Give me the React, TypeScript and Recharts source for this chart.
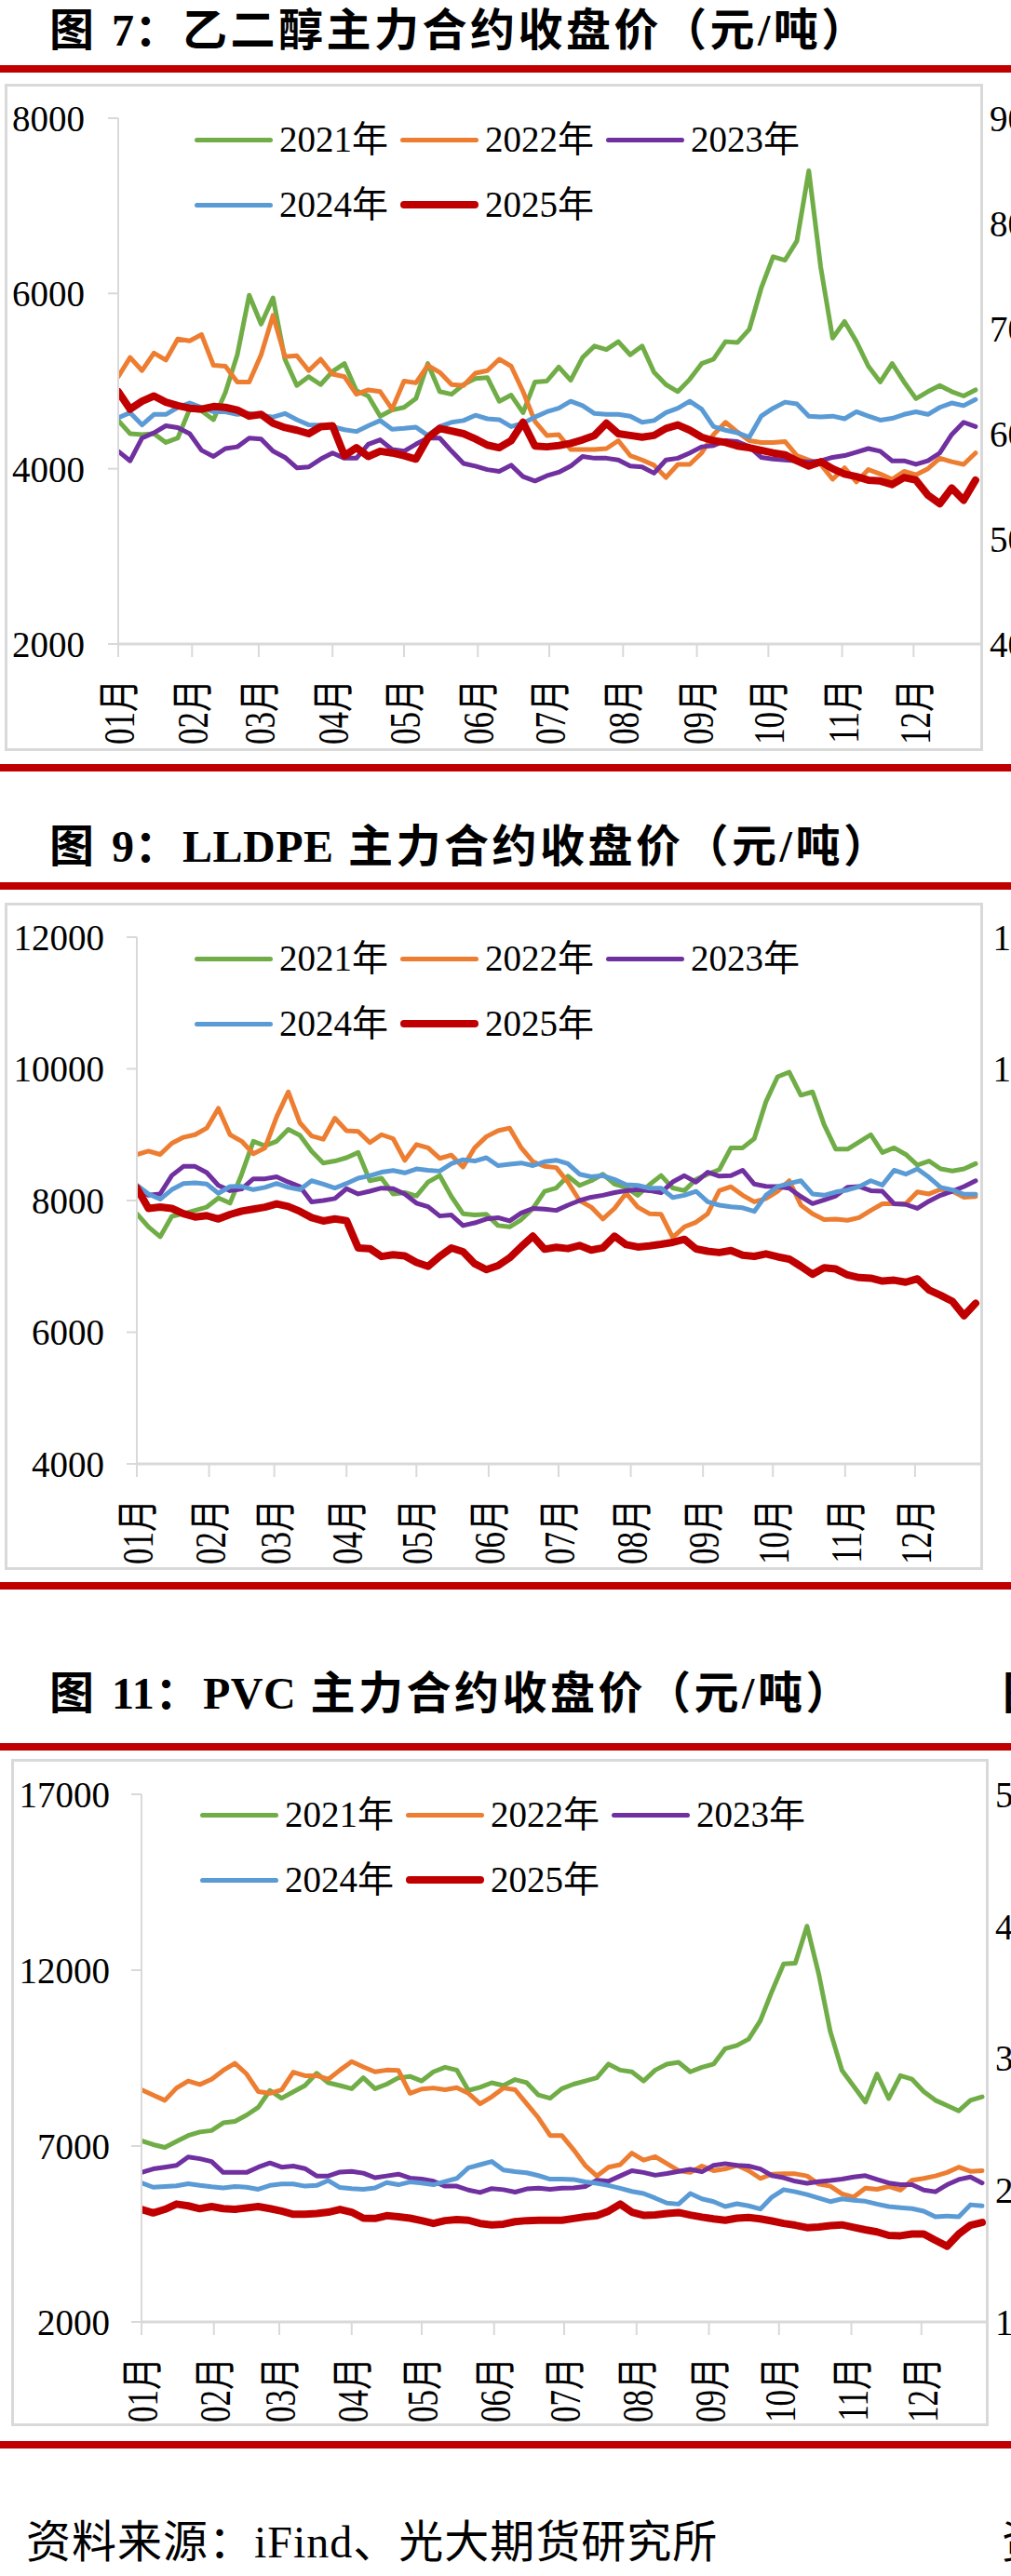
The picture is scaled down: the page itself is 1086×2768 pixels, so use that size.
import React from "react";
import { LineChart, Line, XAxis, YAxis, Legend } from "recharts";

const SERIF = '"Liberation Serif", "Times New Roman", "Noto Sans CJK SC", serif';
const TITLE_FONT = '"Liberation Serif", "Noto Sans CJK SC", sans-serif';
const GRID = "#D9D9D9";
const RED_BAR = "#C00000";

// trading calendar, one sample every 5 days from Jan 1
const DAYS = [
  0, 5, 10, 15, 20, 25, 30, 35, 40, 45, 50, 55, 60, 65, 70, 75, 80, 85, 90, 95,
  100, 105, 110, 115, 120, 125, 130, 135, 140, 145, 150, 155, 160, 165, 170, 175, 180, 185, 190, 195,
  200, 205, 210, 215, 220, 225, 230, 235, 240, 245, 250, 255, 260, 265, 270, 275, 280, 285, 290, 295,
  300, 305, 310, 315, 320, 325, 330, 335, 340, 345, 350, 355, 360,
];
const MONTH_STARTS = [0, 31, 59, 90, 120, 151, 181, 212, 243, 273, 304, 334];
const MONTH_LABELS = ["01月", "02月", "03月", "04月", "05月", "06月", "07月", "08月", "09月", "10月", "11月", "12月"];

const YEARS = ["2021年", "2022年", "2023年", "2024年", "2025年"];
const KEYS = ["y2021", "y2022", "y2023", "y2024", "y2025"];
const COLORS = ["#70AD47", "#ED7D31", "#7030A0", "#5B9BD5", "#C00000"];

// 乙二醇
const MEG_2021 = [
  4550, 4400, 4390, 4400, 4300, 4350, 4680, 4660, 4560, 4870,
  5300, 5980, 5650, 5950, 5250, 4950, 5050, 4960, 5110, 5200,
  4890, 4830, 4600, 4670, 4700, 4800, 5200, 4880, 4850, 4960,
  5030, 5040, 4770, 4840, 4640, 4990, 5000, 5160, 5010, 5270,
  5400, 5360, 5450, 5300, 5400, 5100, 4960, 4880, 5020, 5200,
  5250, 5450, 5440, 5590, 6060, 6420, 6380, 6600, 7400, 6300,
  5490, 5680, 5450, 5170, 4990, 5200, 4990, 4800, 4880, 4950,
  4880, 4830, 4900,
];
const MEG_2022 = [
  5050, 5270, 5120, 5320, 5240, 5480, 5460, 5530, 5180, 5170,
  4990, 4990, 5300, 5750, 5280, 5290, 5120, 5250, 5080, 5050,
  4850, 4900, 4880, 4680, 5000, 4980, 5180, 5100, 4960, 4950,
  5090, 5120, 5250, 5170, 4880, 4540, 4380, 4390, 4220, 4220,
  4220, 4230, 4320, 4150, 4100, 4040, 3900, 4050, 4050, 4180,
  4390, 4530, 4420, 4320, 4300, 4300, 4310, 4150, 4100, 4050,
  3880, 4010, 3850, 3990, 3940, 3880, 3970, 3930, 4000, 4120,
  4080, 4050, 4180,
];
const MEG_2023 = [
  4200, 4090, 4350, 4410, 4490, 4470, 4400, 4210, 4140, 4230,
  4250, 4350, 4340, 4200, 4130, 4010, 4020, 4110, 4180, 4120,
  4120, 4280, 4330, 4220, 4200, 4280, 4350, 4350, 4200, 4060,
  4030, 3990, 3970, 4040, 3910, 3860, 3920, 3960, 4030, 4140,
  4120, 4120, 4100, 4030, 4020, 3950, 4100, 4120, 4180, 4250,
  4265, 4320, 4310, 4250, 4130, 4110, 4100, 4090, 4075, 4090,
  4130, 4150, 4190, 4230, 4200, 4090, 4090, 4050, 4090, 4180,
  4390, 4530, 4480,
];
const MEG_2024 = [
  4580, 4640, 4500, 4620, 4620, 4700, 4750, 4700, 4650, 4650,
  4620, 4630, 4610, 4590, 4630, 4560, 4500, 4495, 4480, 4445,
  4425, 4490, 4550, 4450, 4460, 4475, 4380, 4480, 4530, 4550,
  4610, 4570, 4560, 4480, 4520, 4590, 4650, 4690, 4770, 4720,
  4630, 4620, 4620, 4600, 4530, 4550, 4640, 4690, 4770, 4680,
  4480, 4440, 4410, 4360, 4600, 4690, 4760, 4740, 4600, 4590,
  4600, 4570, 4650, 4600, 4555, 4575, 4620, 4650, 4620, 4700,
  4750, 4720, 4790,
];
const MEG_2025 = [
  4880, 4680, 4770, 4830, 4760, 4720, 4690, 4680, 4710, 4700,
  4670, 4600, 4620, 4520, 4470, 4440, 4400, 4480, 4490, 4150,
  4240, 4140, 4200, 4180, 4150, 4110, 4350, 4460, 4430, 4400,
  4340, 4270, 4240, 4320, 4530, 4260, 4250, 4265, 4290, 4330,
  4380, 4520, 4400, 4380, 4360, 4380, 4460, 4500, 4440, 4360,
  4320, 4300, 4260, 4240, 4210, 4180, 4160, 4090, 4030, 4080,
  4000, 3940, 3910, 3870, 3860, 3820, 3900, 3870, 3700, 3600,
  3780, 3640, 3870,
];

// LLDPE
const LL_2021 = [
  7800, 7600, 7450, 7760, 7800, 7850, 7900, 8040, 7960, 8400,
  8900, 8830, 8900, 9080, 8990, 8750, 8570, 8600, 8650, 8730,
  8300, 8340, 8100, 8120, 8070, 8280, 8380, 8060, 7800, 7780,
  7790, 7620, 7600, 7710, 7880, 8140, 8190, 8370, 8230, 8300,
  8400, 8250, 8200, 8080, 8240, 8380, 8190, 8150, 8320, 8400,
  8470, 8800, 8800, 8940, 9500, 9880, 9950, 9600, 9650, 9150,
  8780, 8780, 8890, 9000, 8730, 8800, 8700, 8540, 8600, 8480,
  8450, 8480, 8560,
];
const LL_2022 = [
  8700, 8750, 8700, 8870, 8960, 9000, 9100, 9400, 9000, 8900,
  8710, 8800, 9270, 9650, 9180, 8980, 8930, 9250, 9060, 9050,
  8880, 9000, 8940, 8610, 8850, 8800, 8640, 8690, 8510, 8800,
  8970, 9060, 9100, 8800, 8590, 8520, 8500, 8280, 8000, 7900,
  7720, 7880, 8110, 7900, 7800, 7790, 7440, 7600, 7670, 7800,
  8150, 8210, 8080, 7980, 8030, 8140, 8300, 7930, 7800, 7710,
  7717, 7700, 7740, 7850, 7950, 7950, 7950, 8130, 8100, 8170,
  8141, 8050, 8060,
];
const LL_2023 = [
  8190, 8080, 8100, 8380, 8518, 8518, 8424, 8230, 8150, 8175,
  8330, 8330, 8360, 8280, 8212, 7980, 8000, 8030, 8180, 8100,
  8141, 8188, 8180, 8100, 7960, 7906, 7765, 7780, 7620, 7660,
  7720, 7740, 7690, 7810, 7880, 7870, 7850, 7930, 8000, 8050,
  8080, 8120, 8150, 8165, 8150, 8118, 8283, 8377, 8280, 8430,
  8370, 8377, 8460, 8250, 8215, 8212, 8188, 8060, 7953, 8010,
  8070, 8200, 8212, 8150, 8140, 7950, 7940, 7880, 7990, 8080,
  8141, 8212, 8300,
];
const LL_2024 = [
  8235, 8100, 8020, 8165, 8259, 8270, 8250, 8110, 8212, 8215,
  8165, 8200, 8259, 8200, 8165, 8300, 8250, 8190, 8259, 8340,
  8377, 8430, 8455, 8420, 8480, 8460, 8447, 8560, 8620, 8600,
  8650, 8530, 8550, 8570, 8530, 8590, 8612, 8560, 8400, 8360,
  8377, 8320, 8240, 8230, 8188, 8188, 8047, 8080, 8141, 7980,
  7929, 7906, 7890, 7835, 8080, 8210, 8260, 8300, 8100, 8080,
  8130, 8160, 8210, 8300, 8235, 8460, 8400, 8480, 8353, 8200,
  8160, 8094, 8094,
];
const LL_2025 = [
  8190, 7880, 7900, 7880, 7800, 7750, 7770, 7720, 7788, 7840,
  7870, 7900, 7950, 7910, 7835, 7740, 7690, 7720, 7694, 7280,
  7270, 7150, 7176, 7160, 7060, 7000, 7152, 7280, 7223, 7040,
  6950, 7010, 7130, 7300, 7458, 7260, 7290, 7270, 7317, 7247,
  7280, 7458, 7330, 7294, 7310, 7335, 7364, 7411, 7265, 7230,
  7210, 7240, 7170, 7152, 7190, 7145, 7110, 7000, 6880, 6980,
  6960, 6870, 6830, 6820, 6776, 6790, 6760, 6810, 6640, 6560,
  6470, 6250, 6440,
];

// PVC
const PVC_2021 = [
  7150, 7040, 6960, 7130, 7300, 7400, 7440, 7660, 7700, 7880,
  8100, 8580, 8360, 8540, 8720, 9070, 8800, 8720, 8630, 8940,
  8630, 8760, 8940, 8980, 8850, 9110, 9240, 9160, 8580, 8670,
  8800, 8720, 8890, 8800, 8450, 8360, 8630, 8760, 8850, 8940,
  9330, 9160, 9110, 8850, 9160, 9330, 9380, 9110, 9240, 9330,
  9770, 9860, 10040, 10560, 11400, 12180, 12200, 13250, 11900, 10250,
  9150, 8700, 8250, 9050, 8350, 9000, 8900, 8550, 8300, 8150,
  8000, 8300, 8400,
];
const PVC_2022 = [
  8600, 8450, 8300, 8650, 8850, 8750, 8900, 9150, 9350, 9050,
  8550, 8500, 8600, 9100, 9000, 9000, 8900, 9160, 9400, 9250,
  9110, 9160, 9150, 8500, 8620, 8650, 8600, 8660, 8500, 8200,
  8400, 8650, 8600, 8200, 7800, 7300, 7300, 6900, 6450, 6150,
  6400, 6470, 6800, 6600, 6700, 6500, 6300, 6250, 6430, 6300,
  6350, 6450, 6300, 6080, 6200, 6210, 6210, 6150, 5920, 5860,
  5640, 5550, 5800, 5770, 5850, 5750, 6030, 6080, 6150, 6250,
  6400, 6280, 6300,
];
const PVC_2023 = [
  6250, 6350, 6400, 6450, 6690, 6640, 6560, 6250, 6250, 6250,
  6400, 6520, 6400, 6430, 6360, 6150, 6150, 6260, 6280, 6230,
  6100, 6150, 6200, 6090, 6060, 6000, 5860, 5860, 5750, 5680,
  5790, 5760, 5690, 5780, 5800, 5770, 5800, 5810, 5850, 6030,
  6000, 6150, 6300, 6250, 6170, 6220, 6280, 6340, 6270, 6450,
  6500, 6450, 6430, 6350, 6160, 6100, 6000, 5940, 5990, 6020,
  6060, 6120, 6160, 6050, 5950, 5900, 5900, 5750, 5700, 5900,
  6050, 6120, 5950,
];
const PVC_2024 = [
  5950, 5830, 5850, 5870, 5930, 5880, 5840, 5810, 5850, 5830,
  5770, 5880, 5920, 5920, 5860, 5880, 6020, 5820, 5790, 5770,
  5810, 5960, 5900, 5980, 5950, 5900, 5990, 6080, 6380, 6470,
  6560, 6320, 6270, 6240, 6160, 6060, 6060, 6050, 5980, 5940,
  5880, 5800, 5710, 5650, 5520, 5380, 5350, 5650, 5500, 5420,
  5280, 5360, 5300, 5210, 5550, 5760, 5700, 5620, 5520, 5420,
  5500, 5460, 5430, 5350, 5280, 5250, 5220, 5150, 4990, 5010,
  4990, 5330, 5300,
];
const PVC_2025 = [
  5200, 5100, 5200, 5350, 5300, 5220, 5280, 5220, 5200, 5240,
  5280, 5220, 5150, 5060, 5060, 5080, 5120, 5200, 5120, 4950,
  4940, 5020, 4990, 4950, 4880, 4800, 4880, 4910, 4890, 4800,
  4760, 4780, 4850, 4880, 4890, 4890, 4890, 4940, 4990, 5020,
  5150, 5350, 5120, 5030, 5040, 5080, 5110, 5040, 4980, 4930,
  4890, 4950, 4970, 4930, 4870, 4800, 4750, 4680, 4700, 4740,
  4760, 4690, 4620, 4560, 4460, 4450, 4500, 4500, 4320, 4150,
  4500, 4750, 4830,
];

// axis ticks of each chart and of the clipped neighbour column
const MEG_TICKS = [2000, 4000, 6000, 8000];
const MEG_SIDE_TICKS = [4000, 5000, 6000, 7000, 8000, 9000];
const LL_TICKS = [4000, 6000, 8000, 10000, 12000];
const PVC_TICKS = [2000, 7000, 12000, 17000];
const PVC_SIDE_TICKS = [1000, 2000, 3000, 4000, 5000];

function buildRows(series: number[][]) {
  return DAYS.map((day, i) => {
    const row: Record<string, number> = { day };
    series.forEach((s, k) => {
      row[KEYS[k]] = s[i];
    });
    return row;
  });
}

const PANELS = [
  {
    title: "图 7：乙二醇主力合约收盘价（元/吨）",
    titleY: 33, barTop: 70, boxTop: 90, boxLeft: 5, boxRight: 1056, boxBottom: 807, endBar: 821,
    plotLeft: 127, plotRight: 1053, plotTop: 127, plotBottom: 692,
    domain: [2000, 8000], ticks: MEG_TICKS, rows: buildRows([MEG_2021, MEG_2022, MEG_2023, MEG_2024, MEG_2025]),
    legendLeft: 209, tickGap: 25,
    side: { domain: [4000, 9000], ticks: MEG_SIDE_TICKS, anchor: "start", offset: 10 },
  },
  {
    title: "图 9：LLDPE 主力合约收盘价（元/吨）",
    titleY: 910, barTop: 948, boxTop: 970, boxLeft: 5, boxRight: 1056, boxBottom: 1687, endBar: 1700,
    plotLeft: 147, plotRight: 1053, plotTop: 1007, plotBottom: 1573,
    domain: [4000, 12000], ticks: LL_TICKS, rows: buildRows([LL_2021, LL_2022, LL_2023, LL_2024, LL_2025]),
    legendLeft: 209, tickGap: 24,
    side: { domain: [4000, 12000], ticks: LL_TICKS, anchor: "end", offset: 111 },
  },
  {
    title: "图 11：PVC 主力合约收盘价（元/吨）",
    titleY: 1820, barTop: 1873, boxTop: 1890, boxLeft: 12, boxRight: 1062, boxBottom: 2607, endBar: 2623,
    plotLeft: 152, plotRight: 1060, plotTop: 1928, plotBottom: 2495,
    domain: [2000, 17000], ticks: PVC_TICKS, rows: buildRows([PVC_2021, PVC_2022, PVC_2023, PVC_2024, PVC_2025]),
    legendLeft: 215, tickGap: 23,
    side: { domain: [1000, 5000], ticks: PVC_SIDE_TICKS, anchor: "start", offset: 9 },
    nextTitle: "图",
  },
];

// month label read bottom-to-top; its top end sits `top` px down the svg.
// glyphs are widened across the axis like the printed labels
const MonthTick = (props: any) => {
  const { x, payload, top } = props;
  const i = MONTH_STARTS.indexOf(payload.value);
  return (
    <text
      transform={`translate(${x + 2},${top}) rotate(-90) scale(1,1.3)`}
      textAnchor="end"
      dominantBaseline="central"
      fontSize={35}
      fontFamily={SERIF}
      fill="#000"
    >
      {MONTH_LABELS[i]}
    </text>
  );
};

const YearLegend = (props: any) => {
  const items = props.payload ?? [];
  const rows = [items.slice(0, 3), items.slice(3)];
  return (
    <div style={{ fontFamily: SERIF, fontSize: 39, color: "#000" }}>
      {rows.map((row: any[], r: number) => (
        <div key={r} style={{ display: "flex", alignItems: "center", height: 70 }}>
          {row.map((it: any) => (
            <div key={it.value} style={{ display: "flex", alignItems: "center", marginRight: 12 }}>
              <span
                style={{
                  display: "inline-block",
                  width: 84,
                  height: it.dataKey === "y2025" ? 8 : 5,
                  borderRadius: 4,
                  background: it.color,
                  marginRight: 7,
                }}
              />
              <span style={{ width: 118, whiteSpace: "nowrap", lineHeight: "70px" }}>{it.value}</span>
            </div>
          ))}
        </div>
      ))}
    </div>
  );
};

const bar = (top: number, height = 8): React.CSSProperties => ({
  position: "absolute", left: 0, top, width: 1086, height, background: RED_BAR,
});

const titleStyle = (left: number, y: number): React.CSSProperties => ({
  position: "absolute", left, top: y - 30, height: 60, lineHeight: "60px",
  fontSize: 48, fontWeight: 700, fontFamily: TITLE_FONT, whiteSpace: "nowrap", letterSpacing: 3.5,
});

// Latin runs in the titles are set tight, the CJK runs spaced out
const Title = ({ text }: { text: string }) => (
  <>
    {text.split(/([A-Za-z0-9]+)/).map((part, i) =>
      /^[A-Za-z0-9]+$/.test(part) ? (
        <span key={i} style={{ letterSpacing: 0.5 }}>{part}</span>
      ) : (
        <span key={i}>{part}</span>
      ),
    )}
  </>
);

function Panel(p: any) {
  const chartH = p.boxBottom - p.boxTop;
  const axisFont = { fill: "#000", fontSize: 39, fontFamily: SERIF };
  const labelTop = p.plotBottom - p.boxTop + 38;
  return (
    <>
      <div style={titleStyle(53, p.titleY)}>
        <Title text={p.title} />
      </div>
      {p.nextTitle && <div style={titleStyle(1077, p.titleY)}>{p.nextTitle}</div>}
      <div style={bar(p.barTop)} />
      <div
        style={{
          position: "absolute", left: p.boxLeft, top: p.boxTop, width: p.boxRight - p.boxLeft,
          height: chartH, border: `3px solid ${GRID}`, boxSizing: "border-box",
        }}
      />
      <div style={{ position: "absolute", left: 0, top: p.boxTop }}>
        <LineChart
          width={1086}
          height={chartH}
          data={p.rows}
          margin={{ top: p.plotTop - p.boxTop, right: 0, bottom: 0, left: 0 }}
        >
          <XAxis
            dataKey="day"
            type="number"
            domain={[0, 362]}
            ticks={MONTH_STARTS}
            interval={0}
            allowDataOverflow
            height={p.boxBottom - p.plotBottom}
            axisLine={{ stroke: GRID, strokeWidth: 3 }}
            tickLine={{ stroke: GRID, strokeWidth: 2 }}
            tickSize={14}
            tickMargin={24}
            tick={(t: any) => <MonthTick {...t} top={labelTop} />}
          />
          <YAxis
            yAxisId="main"
            domain={p.domain}
            ticks={p.ticks}
            interval={0}
            allowDataOverflow
            width={p.plotLeft}
            axisLine={{ stroke: GRID, strokeWidth: 2 }}
            tickLine={{ stroke: GRID, strokeWidth: 2 }}
            tickSize={11}
            tickMargin={p.tickGap}
            tick={axisFont}
          />
          <YAxis
            yAxisId="side"
            orientation="right"
            domain={p.side.domain}
            ticks={p.side.ticks}
            interval={0}
            allowDataOverflow
            width={1086 - p.plotRight}
            axisLine={false}
            tickLine={false}
            tickSize={0}
            tickMargin={p.side.offset}
            tick={{ ...axisFont, textAnchor: p.side.anchor }}
          />
          <Legend
            layout="vertical"
            verticalAlign="middle"
            align="center"
            wrapperStyle={{ top: 25, left: p.legendLeft, width: 720, height: 140 }}
            content={(lp: any) => <YearLegend {...lp} />}
          />
          {KEYS.map((k, i) => (
            <Line
              key={k}
              yAxisId="main"
              type="linear"
              dataKey={k}
              name={YEARS[i]}
              stroke={COLORS[i]}
              strokeWidth={i === 4 ? 8 : 5}
              strokeLinejoin="round"
              strokeLinecap="round"
              dot={false}
              activeDot={false}
              isAnimationActive={false}
            />
          ))}
        </LineChart>
      </div>
      <div style={bar(p.endBar)} />
    </>
  );
}

const footStyle = (left: number): React.CSSProperties => ({
  position: "absolute", left, top: 2702, height: 60, lineHeight: "60px",
  fontSize: 48, fontFamily: SERIF, whiteSpace: "nowrap", color: "#000", letterSpacing: 1,
});

export default function App() {
  return (
    <div
      style={{
        position: "absolute", left: 0, top: 0, width: 1086, height: 2768,
        overflow: "hidden", background: "#fff", color: "#000",
      }}
    >
      {PANELS.map((p) => (
        <Panel key={p.title} {...p} />
      ))}
      <div style={footStyle(28)}>资料来源：iFind、光大期货研究所</div>
      <div style={footStyle(1076)}>资料来源</div>
    </div>
  );
}
